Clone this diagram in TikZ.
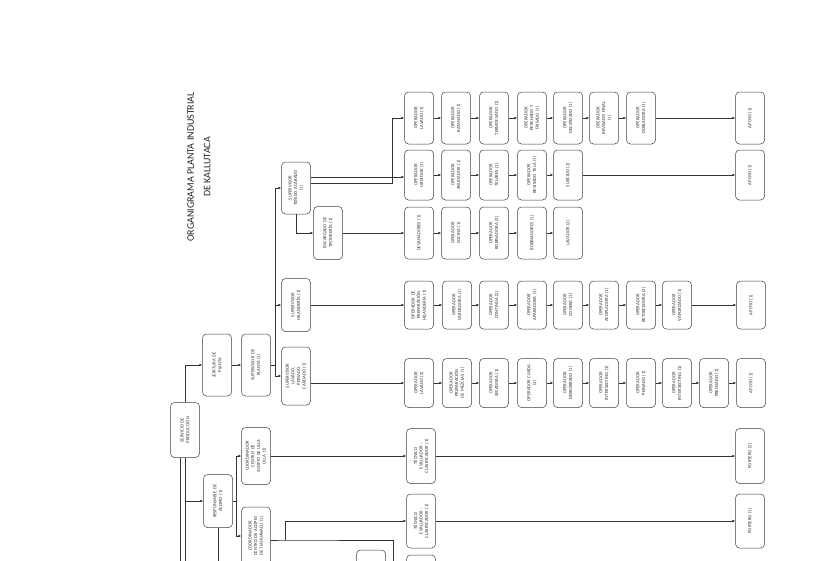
\documentclass[tikz,border=0pt]{standalone}
\usepackage{fontspec}
\setmainfont{Carlito}
\usetikzlibrary{arrows.meta}
\tikzset{
  box/.style={draw=black!75, line width=0.5pt, rounded corners=4pt, rotate=90,
    minimum width=#1, minimum height=29pt, inner sep=1pt, align=center,
    text width=46pt, font=\fontsize{4.7}{5.6}\selectfont, text=black!78},
  box/.default=52pt,
  arr/.style={draw=black!80, line width=0.5pt, -{Latex[length=3pt,width=2.6pt]}},
  ln/.style={draw=black!80, line width=0.5pt},
  ttl/.style={rotate=90, align=center, font=\fontsize{10}{16.5}\selectfont, text=black!85}
}
\begin{document}
\begin{tikzpicture}[x=1pt,y=-1pt]
\useasboundingbox (0,0) rectangle (825,560);
\fill[white] (0,0) rectangle (825,560);
\clip (0,0) rectangle (825,560);

% title
\node[ttl] (title) at (199,167) {ORGANIGRAMA PLANTA INDUSTRIAL\\DE KALLUTACA};

% upper hierarchy
\node[box=55pt] (serv) at (185,430) {SERVICIO DE\\PRODUCCIÓN};
\node[box=62pt] (jefp) at (217,365) {JEFATURA DE\\PLANTA};
\node[box=62pt] (supp) at (256,365) {SUPERVISOR DE\\PLANTA (1)};
\node[box=53pt] (resp) at (218,501) {RESPONSABLE DE\\ACOPIO (1)};
\node[box=57pt] (cu) at (256,456) {COORDINADOR\\CENTRO DE\\ACOPIO DE ULLA\\ULLA (1)};
\node[box=58pt] (ct) at (256,536) {COORDINADOR\\CENTRO DE ACOPIO\\DE TIAHUANACU (1)};

% supervisors
\node[box=52pt] (sta) at (296,188) {SUPERVISOR\\TEÑIDO ACABADO\\(1)};
\node[box=53pt] (shi) at (296,305) {SUPERVISOR\\HILANDERÍA (1)};
\node[box=58pt] (sla) at (296,376) {SUPERVISOR\\LAVADO,\\PEINADO,\\CARDADO (1)};
\node[box=53pt] (enc) at (328,233) {ENCARGADO DE\\TINTORERÍA (1)};

% top group row 1
\node[box] (a1) at (419,118) {OPERADOR\\LAVADO (1)};
\node[box] (a2) at (456,118) {OPERADOR\\BATANADO (1)};
\node[box] (a3) at (494,118) {OPERADOR\\TERMOFIJADO (1)};
\node[box] (a4) at (532,118) {OPERADOR\\PERCHADO Y\\FRISADO (1)};
\node[box] (a5) at (568,118) {OPERADOR\\DECATIZADO (1)};
\node[box] (a6) at (604,118) {OPERADOR\\REVISADO FINAL\\(1)};
\node[box] (a7) at (641,118) {OPERADOR\\DOBLADORA (1)};
\node[box] (ap1) at (750,118) {APOYO (1)};
% row 2
\node[box=50pt] (b1) at (419,175) {OPERADOR\\URDIDOR (1)};
\node[box=50pt] (b2) at (456,175) {OPERADOR\\ANUDADOR (1)};
\node[box=50pt] (b3) at (494,175) {OPERADOR\\TELARES (1)};
\node[box=50pt] (b4) at (532,175) {OPERADOR\\REVISADO TELA (1)};
\node[box=50pt] (b5) at (568,175) {SURCIDO (2)};
\node[box=50pt] (ap2) at (750,175) {APOYO (1)};
% row 3
\node[box] (c1) at (419,233) {DEVANADORES (1)};
\node[box] (c2) at (456,233) {OPERADOR\\COCINA (1)};
\node[box] (c3) at (494,233) {OPERADOR\\BOBINADORA (2)};
\node[box] (c4) at (532,233) {BOBINADORES (1)};
\node[box] (c5) at (568,233) {LAVADOR (2)};

% hilanderia row
\node[box=47pt] (h1) at (419,305) {OPERADOR DE\\PREPARACIÓN\\HILANDERÍA (1)};
\node[box=47pt] (h2) at (457,305) {OPERADOR\\CARDADORA (1)};
\node[box=47pt] (h3) at (494,305) {OPERADOR\\CONTINUA (2)};
\node[box=47pt] (h4) at (532,305) {OPERADOR\\APARADORA (1)};
\node[box=47pt] (h5) at (568,305) {OPERADOR\\CONERA (1)};
\node[box=47pt] (h6) at (604,305) {OPERADOR\\ACOPLADORA (1)};
\node[box=47pt] (h7) at (641,305) {OPERADOR\\RETORCEDORA (2)};
\node[box=47pt] (h8) at (677,305) {OPERADOR\\VAPORIZADO (1)};
\node[box=47pt] (aph) at (751,305) {APOYO (1)};

% lavado row
\node[box=49pt] (l1) at (419,383) {OPERADOR\\LAVADO (2)};
\node[box=49pt] (l2) at (457,383) {OPERADOR\\PREPARACIÓN\\DE MEZCLAS (1)};
\node[box=49pt] (l3) at (494,383) {OPERADOR\\SECADORA (1)};
\node[box=49pt] (l4) at (532,383) {OPERADOR CARDA\\(2)};
\node[box=49pt] (l5) at (568,383) {OPERADOR\\DESBORRADO (1)};
\node[box=49pt] (l6) at (604,383) {OPERADOR\\INTERSECTING (1)};
\node[box=49pt] (l7) at (641,383) {OPERADOR\\PEINADO (1)};
\node[box=49pt] (l8) at (677,383) {OPERADOR\\INTERSECTING (1)};
\node[box=49pt] (l9) at (714,383) {OPERADOR\\PRENSADO (1)};
\node[box=49pt] (apl) at (751,383) {APOYO (1)};

% acopio rows
\node[box=55pt] (t1) at (421,456) {TÉCNICO\\EVALUADOR -\\CLASIFICADOR (1)};
\node[box=55pt] (p2) at (750,456) {PORTERO (2)};
\node[box=54pt] (t2) at (421,521) {TÉCNICO\\EVALUADOR -\\CLASIFICADOR (1)};
\node[box=54pt] (p1) at (750,521) {PORTERO (1)};
\node[box=52pt] (pb1) at (371,576) {};
\node[box=52pt] (pb2) at (421,581) {};

% connectors: upper hierarchy
\draw[arr] (serv.east) |- (jefp.north);
\draw[arr] (jefp.south) -- (supp.north);
\coordinate (tk) at (275,365);
\draw[ln] (supp.south) -- (tk);
\draw[arr] (tk) |- (sta.north);
\draw[arr] (tk) |- (shi.north);
\draw[arr] (tk) |- (sla.north);

\draw[arr] (serv.west) |- (resp.north);
\coordinate (sv) at (180,565);
\draw[ln] (serv.west) -- (serv.west |- sv);
\draw[ln] (serv.west -| sv) -- (sv);
\draw[ln] (resp.west) -- (resp.west |- sv);
\coordinate (rb) at (236,501);
\draw[ln] (resp.south) -- (rb);
\draw[arr] (rb) |- (cu.north);
\draw[arr] (rb) |- (ct.north);

% teñido group
\coordinate (sp) at (392,177);
\coordinate (sq) at (392,183);
\draw[ln] (sta.south |- sp) -- (sp);
\draw[ln] (sta.south |- sq) -- (sq) -- (sp);
\draw[arr] (sp) |- (a1.north);
\draw[arr] (sp) -- (b1.north |- sp);
\draw[arr] (sta.west) |- (enc.north);
\draw[arr] (enc.south) -- (c1.north);

\foreach \p/\q in {a1/a2,a2/a3,a3/a4,a4/a5,a5/a6,a6/a7,a7/ap1,
                   b1/b2,b2/b3,b3/b4,b4/b5,b5/ap2,
                   c1/c2,c2/c3,c3/c4,c4/c5,
                   h1/h2,h2/h3,h3/h4,h4/h5,h5/h6,h6/h7,h7/h8,h8/aph,
                   l1/l2,l2/l3,l3/l4,l4/l5,l5/l6,l6/l7,l7/l8,l8/l9,l9/apl,
                   t1/p2,t2/p1}
  \draw[arr] (\p.south) -- (\q.north);

\draw[arr] (shi.south) -- (h1.north);
\draw[arr] (sla.south |- l1) -- (l1.north);

% acopio connectors
\draw[arr] (cu.south) -- (t1.north);
\coordinate (kb) at (285,540);
\coordinate (kc) at (393,540);
\draw[ln] (ct.south |- kb) -- (kb) -- (kc) -- (kc |- sv);
\draw[arr] (kb) |- (t2.north);
\end{tikzpicture}
\end{document}
